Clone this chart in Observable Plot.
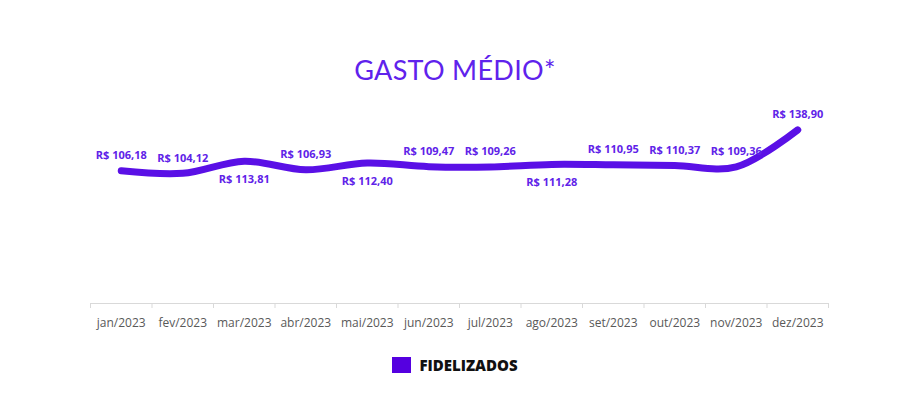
<!DOCTYPE html>
<html>
<head>
<meta charset="utf-8">
<script src="https://cdn.jsdelivr.net/npm/d3@7"></script>
<script src="https://cdn.jsdelivr.net/npm/@observablehq/plot@0.6"></script>
<style>
  html, body { margin: 0; padding: 0; background: #fff; }
  #page { position: relative; width: 910px; height: 398px; overflow: hidden; background: #fff; }
  #title { position: absolute; left: 0; top: 0; width: 910px; height: 100px; text-align: center;
           font-family: Lato, "Open Sans", sans-serif; font-size: 27px; color: #5f22ec; line-height: 140px; letter-spacing: 0.3px; }
  #chart { position: absolute; left: 0; top: 100px; }
  #legend { position: absolute; left: 0; top: 355px; width: 910px; display: flex; justify-content: center; align-items: center;
            font-family: "Open Sans", sans-serif; font-weight: 800; font-size: 15px; color: #111; }
  #legend .sw { width: 19px; height: 16px; background: #5500e0; margin-right: 8px; }
</style>
</head>
<body>
<div id="page">
  <div id="title">GASTO MÉDIO*</div>
  <div id="chart"></div>
  <div id="legend"><span class="sw"></span><span>FIDELIZADOS</span></div>
</div>
<script>
const months = ["jan/2023","fev/2023","mar/2023","abr/2023","mai/2023","jun/2023","jul/2023","ago/2023","set/2023","out/2023","nov/2023","dez/2023"];
const values = [106.18, 104.12, 113.81, 106.93, 112.40, 109.47, 109.26, 111.28, 110.95, 110.37, 109.36, 138.90];
const seriesName = "FIDELIZADOS";
const labelsBelow = ["mar/2023","mai/2023","ago/2023"];

const purple = "#5a10e6";
const fmt = v => "R$ " + v.toFixed(2).replace(".", ",");
const data = months.map((m, i) => ({i, month: m, value: values[i], below: labelsBelow.includes(m)}));

const chart = Plot.plot({
  width: 910,
  height: 245,
  marginLeft: 90,
  marginRight: 82,
  marginTop: 3,
  marginBottom: 42,
  x: {type: "linear", domain: [-0.5, months.length - 0.5]},
  y: {domain: [0, 160], axis: null},
  style: {background: "transparent"},
  marks: [
    Plot.ruleY([0], {stroke: "#d9d9d9", strokeWidth: 1}),
    Plot.axisX({ticks: d3.range(months.length + 1).map(i => i - 0.5), tickFormat: () => "", tickSize: 5, stroke: "#d9d9d9", label: null}),
    Plot.axisX({ticks: d3.range(months.length), tickFormat: i => months[i], tickSize: 0, tickPadding: 15,
                fontSize: 12, fill: "#595959", fontFamily: "'Open Sans', sans-serif", label: null}),
    Plot.line(data, {x: "i", y: "value", stroke: purple, strokeWidth: 7, curve: "catmull-rom", strokeLinecap: "round", strokeLinejoin: "round"}),
    Plot.text(data.filter(d => !d.below), {x: "i", y: "value", text: d => fmt(d.value), dy: -15, fill: "#6022e8",
              fontWeight: "bold", fontSize: 11, fontFamily: "'Open Sans', sans-serif"}),
    Plot.text(data.filter(d => d.below), {x: "i", y: "value", text: d => fmt(d.value), dy: 18, fill: "#6022e8",
              fontWeight: "bold", fontSize: 11, fontFamily: "'Open Sans', sans-serif"})
  ]
});
document.getElementById("chart").appendChild(chart);
</script>
</body>
</html>
